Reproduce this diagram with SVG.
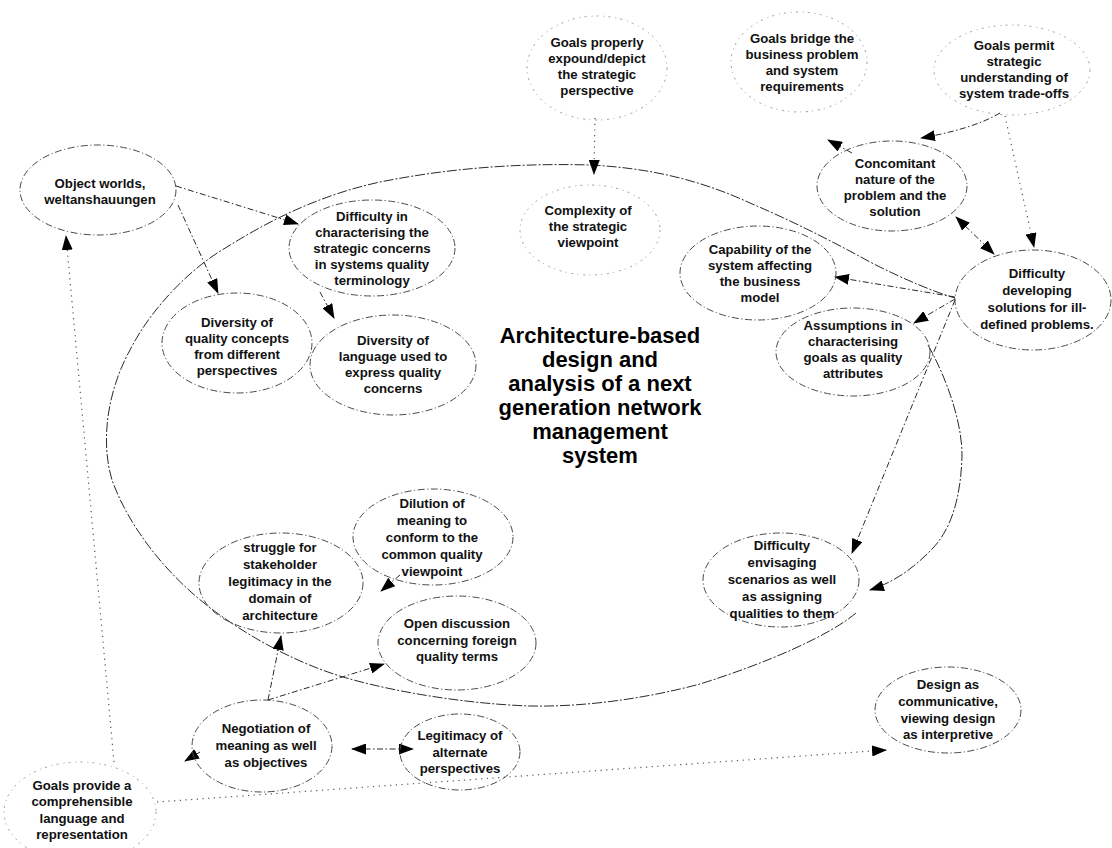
<svg xmlns="http://www.w3.org/2000/svg" width="1112" height="848" viewBox="0 0 1112 848">
  <defs>
    <style>
      .node { fill: none; stroke: #4a4a4a; stroke-width: 1; stroke-dasharray: 7 2.5 1.2 2.5; }
      .faint { stroke: #999; stroke-dasharray: 2 5 1 4; }
      .t { font-family: "Liberation Sans", Arial, sans-serif; font-size: 13.2px; font-weight: bold; text-anchor: middle; fill: #111; }
      .title { font-family: "Liberation Sans", Arial, sans-serif; font-size: 22px; font-weight: bold; text-anchor: middle; fill: #000; }
      .link { fill: none; stroke: #2a2a2a; stroke-width: 1; stroke-dasharray: 6 2.5 1.5 2.5; }
      .dot { fill: none; stroke: #555; stroke-width: 1.2; stroke-dasharray: 1.2 4.5; }
      .loop { fill: none; stroke: #2a2a2a; stroke-width: 1; stroke-dasharray: 10 2 2 2; }
    </style>
    <marker id="arrow" markerUnits="userSpaceOnUse" markerWidth="15" markerHeight="11" refX="14" refY="5.5" orient="auto-start-reverse">
      <path d="M0,0 L15,5.5 L0,11 z" fill="#000"/>
    </marker>
  </defs>

  <!-- connectors -->
  <g id="connectors">
    <!-- large loop around the central theme -->
    <path class="loop" d="M856,613 C830,635 770,662 700,684 C640,700 580,707 530,706 C470,704 400,693 350,679 C310,668 260,645 213,610 C170,578 130,530 112,480 C100,440 108,390 130,350 C150,310 190,268 227,247 C270,220 320,195 380,182 C450,168 520,163 590,165 C650,168 700,180 750,203 C790,220 830,240 870,262 C905,280 935,292 955,298"/>
    <path class="loop" marker-end="url(#arrow)" d="M928,345 C945,375 962,420 962,455 C961,500 950,530 933,548 C915,567 895,582 870,590"/>

    <!-- Object worlds outgoing -->
    <path class="link" marker-end="url(#arrow)" d="M176,186 L298,224"/>
    <path class="link" marker-end="url(#arrow)" d="M178,205 L218,293"/>

    <!-- Goals provide a comprehensible language ... -->
    <path class="dot" marker-end="url(#arrow)" d="M114,762 L66,236"/>
    <path class="dot" marker-end="url(#arrow)" d="M157,802 L886,750"/>

    <!-- strategic perspective -->
    <path class="dot" marker-end="url(#arrow)" d="M595,118 L594,174"/>

    <!-- Goals permit outgoing -->
    <path class="link" marker-end="url(#arrow)" d="M1000,113 C980,125 950,133 921,138"/>
    <path class="dot" marker-end="url(#arrow)" d="M1005,116 L1034,247"/>
    <path class="link" marker-end="url(#arrow)" d="M852,153 L828,140"/>

    <!-- Concomitant nature <-> Difficulty developing -->
    <path class="link" marker-start="url(#arrow)" marker-end="url(#arrow)" d="M956,217 L994,254"/>

    <!-- Difficulty developing outgoing -->
    <path class="link" marker-end="url(#arrow)" d="M955,297 L835,277"/>
    <path class="link" marker-end="url(#arrow)" d="M955,299 L914,323"/>
    <path class="link" marker-end="url(#arrow)" d="M955,300 L852,553"/>

    <!-- Difficulty in characterising -> Diversity of language -->
    <path class="link" marker-end="url(#arrow)" d="M320,292 L334,318"/>

    <!-- Negotiation outgoing -->
    <path class="link" marker-end="url(#arrow)" d="M268,700 L281,636"/>
    <path class="link" marker-end="url(#arrow)" d="M268,700 L384,664"/>
    <path class="link" marker-end="url(#arrow)" d="M200,752 L185,761"/>
    <path class="link" marker-start="url(#arrow)" marker-end="url(#arrow)" d="M352,749 L413,749"/>

    <!-- Dilution of meaning -->
    <path class="link" marker-end="url(#arrow)" d="M400,575 L381,591"/>
  </g>

  <!-- central theme -->
  <g id="theme">
    <text class="title" x="600" y="343">Architecture-based</text>
    <text class="title" x="600" y="367">design and</text>
    <text class="title" x="600" y="391">analysis of a next</text>
    <text class="title" x="600" y="415">generation network</text>
    <text class="title" x="600" y="439">management</text>
    <text class="title" x="600" y="463">system</text>
  </g>

  <g id="object-worlds">
    <ellipse class="node" cx="98" cy="190" rx="78" ry="45"/>
    <text class="t" x="100" y="188">Object worlds,</text>
    <text class="t" x="100" y="204">weltanshauungen</text>
  </g>

  <g id="goals-properly">
    <ellipse class="node faint" cx="597" cy="68" rx="70" ry="52"/>
    <text class="t" x="597" y="47">Goals properly</text>
    <text class="t" x="597" y="63">expound/depict</text>
    <text class="t" x="597" y="79">the strategic</text>
    <text class="t" x="597" y="95">perspective</text>
  </g>

  <g id="goals-bridge">
    <ellipse class="node faint" cx="799" cy="62" rx="68" ry="50"/>
    <text class="t" x="802" y="43">Goals bridge the</text>
    <text class="t" x="802" y="59">business problem</text>
    <text class="t" x="802" y="75">and system</text>
    <text class="t" x="802" y="91">requirements</text>
  </g>

  <g id="goals-permit">
    <ellipse class="node faint" cx="1012" cy="70" rx="78" ry="45"/>
    <text class="t" x="1014" y="50">Goals permit</text>
    <text class="t" x="1014" y="66">strategic</text>
    <text class="t" x="1014" y="82">understanding of</text>
    <text class="t" x="1014" y="98">system trade-offs</text>
  </g>

  <g id="concomitant">
    <ellipse class="node" cx="892" cy="186" rx="75" ry="45"/>
    <text class="t" x="895" y="168">Concomitant</text>
    <text class="t" x="895" y="184">nature of the</text>
    <text class="t" x="895" y="200">problem and the</text>
    <text class="t" x="895" y="216">solution</text>
  </g>

  <g id="complexity">
    <ellipse class="node faint" cx="590" cy="230" rx="70" ry="45"/>
    <text class="t" x="588" y="215">Complexity of</text>
    <text class="t" x="588" y="231">the strategic</text>
    <text class="t" x="588" y="247">viewpoint</text>
  </g>

  <g id="difficulty-characterising">
    <ellipse class="node" cx="372" cy="248" rx="83" ry="48"/>
    <text class="t" x="372" y="221">Difficulty in</text>
    <text class="t" x="372" y="237">characterising the</text>
    <text class="t" x="372" y="253">strategic concerns</text>
    <text class="t" x="372" y="269">in systems quality</text>
    <text class="t" x="372" y="285">terminology</text>
  </g>

  <g id="capability">
    <ellipse class="node" cx="758" cy="273" rx="78" ry="47"/>
    <text class="t" x="760" y="254">Capability of the</text>
    <text class="t" x="760" y="270">system affecting</text>
    <text class="t" x="760" y="286">the business</text>
    <text class="t" x="760" y="302">model</text>
  </g>

  <g id="difficulty-developing">
    <ellipse class="node" cx="1033" cy="300" rx="78" ry="50"/>
    <text class="t" x="1037" y="278">Difficulty</text>
    <text class="t" x="1037" y="295">developing</text>
    <text class="t" x="1037" y="312">solutions for ill-</text>
    <text class="t" x="1037" y="329">defined problems.</text>
  </g>

  <g id="diversity-quality">
    <ellipse class="node" cx="237" cy="343" rx="75" ry="50"/>
    <text class="t" x="237" y="327">Diversity of</text>
    <text class="t" x="237" y="343">quality concepts</text>
    <text class="t" x="237" y="359">from different</text>
    <text class="t" x="237" y="375">perspectives</text>
  </g>

  <g id="diversity-language">
    <ellipse class="node" cx="393" cy="365" rx="83" ry="50"/>
    <text class="t" x="393" y="345">Diversity of</text>
    <text class="t" x="393" y="361">language used to</text>
    <text class="t" x="393" y="377">express quality</text>
    <text class="t" x="393" y="393">concerns</text>
  </g>

  <g id="assumptions">
    <ellipse class="node" cx="853" cy="352" rx="77" ry="44"/>
    <text class="t" x="853" y="330">Assumptions in</text>
    <text class="t" x="853" y="346">characterising</text>
    <text class="t" x="853" y="362">goals as quality</text>
    <text class="t" x="853" y="378">attributes</text>
  </g>

  <g id="dilution">
    <ellipse class="node" cx="433" cy="537" rx="80" ry="48"/>
    <text class="t" x="432" y="508">Dilution of</text>
    <text class="t" x="432" y="525">meaning to</text>
    <text class="t" x="432" y="542">conform to the</text>
    <text class="t" x="432" y="559">common quality</text>
    <text class="t" x="432" y="576">viewpoint</text>
  </g>

  <g id="struggle">
    <ellipse class="node" cx="281" cy="583" rx="82" ry="50"/>
    <text class="t" x="280" y="552">struggle for</text>
    <text class="t" x="280" y="569">stakeholder</text>
    <text class="t" x="280" y="586">legitimacy in the</text>
    <text class="t" x="280" y="603">domain of</text>
    <text class="t" x="280" y="620">architecture</text>
  </g>

  <g id="difficulty-envisaging">
    <ellipse class="node" cx="781" cy="580" rx="78" ry="47"/>
    <text class="t" x="782" y="550">Difficulty</text>
    <text class="t" x="782" y="567">envisaging</text>
    <text class="t" x="782" y="584">scenarios as well</text>
    <text class="t" x="782" y="601">as assigning</text>
    <text class="t" x="782" y="618">qualities to them</text>
  </g>

  <g id="open-discussion">
    <ellipse class="node" cx="457" cy="643" rx="79" ry="47"/>
    <text class="t" x="457" y="628">Open discussion</text>
    <text class="t" x="457" y="645">concerning foreign</text>
    <text class="t" x="457" y="661">quality terms</text>
  </g>

  <g id="design-communicative">
    <ellipse class="node" cx="948" cy="710" rx="73" ry="43"/>
    <text class="t" x="948" y="689">Design as</text>
    <text class="t" x="948" y="706">communicative,</text>
    <text class="t" x="948" y="723">viewing design</text>
    <text class="t" x="948" y="739">as interpretive</text>
  </g>

  <g id="negotiation">
    <ellipse class="node" cx="262" cy="746" rx="70" ry="46"/>
    <text class="t" x="266" y="733">Negotiation of</text>
    <text class="t" x="266" y="750">meaning as well</text>
    <text class="t" x="266" y="767">as objectives</text>
  </g>

  <g id="legitimacy">
    <ellipse class="node" cx="460" cy="752" rx="60" ry="38"/>
    <text class="t" x="460" y="740">Legitimacy of</text>
    <text class="t" x="460" y="757">alternate</text>
    <text class="t" x="460" y="773">perspectives</text>
  </g>

  <g id="goals-provide">
    <ellipse class="node faint" cx="80" cy="812" rx="76" ry="50"/>
    <text class="t" x="82" y="790">Goals provide a</text>
    <text class="t" x="82" y="806">comprehensible</text>
    <text class="t" x="82" y="823">language and</text>
    <text class="t" x="82" y="839">representation</text>
  </g>
</svg>
